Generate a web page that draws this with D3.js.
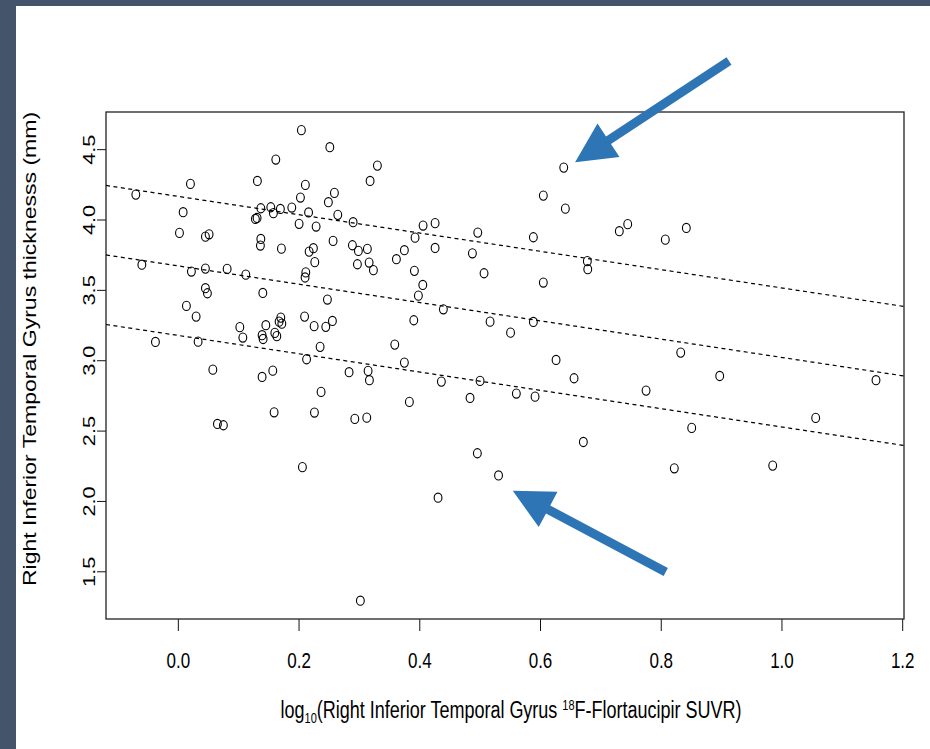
<!DOCTYPE html>
<html>
<head>
<meta charset="utf-8">
<script src="https://cdn.jsdelivr.net/npm/d3@7"></script>
<style>
  body { margin: 0; background: #fff; }
  svg { display: block; }
</style>
</head>
<body>
<svg id="chart"></svg>
<script>
// Points (log10 SUVR, thickness in mm)
const suvrLog = [
  0.2047, 0.1623, 0.0209, 0.1318, 0.2113, -0.0696, 0.2031, 0.1375, 0.1540, 0.1699,
  0.1888, 0.1583, 0.2166, 0.0088, 0.1285, 0.1313, 0.2009, 0.0027, 0.0457, 0.0518,
  0.1375, 0.1368, 0.1716, 0.2175, -0.0596, 0.0225, 0.0457, 0.0817, 0.1126, 0.2120,
  0.2108, 0.2518, 0.3306, 0.3185, 0.2594, 0.2494, 0.2650, 0.2291, 0.2904, 0.2572,
  0.2246, 0.2269, 0.2892, 0.2991, 0.3140, 0.2975, 0.3169, 0.3240, 0.3621, 0.3753,
  0.3930, 0.4063, 0.4262, 0.4262, 0.3919, 0.4969, 0.4880, 0.5073, 0.6393, 0.6055,
  0.6420, 0.5890, 0.7314, 0.7453, 0.8424, 0.8076, 0.6784, 0.6791, 0.6055, 0.0457,
  0.0490, 0.1408, 0.0142, 0.0303, 0.2100, 0.1706, 0.1678, 0.1723, 0.1027, 0.1077,
  0.1458, 0.1396, 0.1413, 0.1607, 0.1640, -0.0371, 0.0336, 0.2133, 0.0580, 0.1396,
  0.1573, 0.1595, 0.0656, 0.0755, 0.4058, 0.3985, 0.2478, 0.4399, 0.2258, 0.2451,
  0.2561, 0.3909, 0.5173, 0.5512, 0.2357, 0.3594, 0.2837, 0.3152, 0.3174, 0.3753,
  0.4366, 0.5007, 0.2373, 0.2263, 0.3836, 0.4841, 0.2932, 0.3130, 0.5890, 0.8331,
  0.6266, 0.6564, 0.5608, 0.5918, 0.7757, 0.8513, 0.6718, 0.8977, 1.1566, 1.0567,
  0.2064, 0.3024, 0.4311, 0.4962, 0.5313, 0.8225, 0.9855
];
const thickness = [
  4.635, 4.426, 4.253, 4.274, 4.246, 4.177, 4.156, 4.080, 4.087, 4.075,
  4.085, 4.045, 4.050, 4.052, 4.004, 4.011, 3.969, 3.905, 3.878, 3.895,
  3.862, 3.815, 3.793, 3.772, 3.679, 3.630, 3.651, 3.649, 3.608, 3.624,
  3.588, 4.514, 4.383, 4.274, 4.189, 4.123, 4.033, 3.950, 3.981, 3.848,
  3.796, 3.697, 3.817, 3.777, 3.791, 3.682, 3.694, 3.640, 3.718, 3.782,
  3.871, 3.957, 3.974, 3.798, 3.635, 3.907, 3.760, 3.618, 4.369, 4.170,
  4.077, 3.874, 3.917, 3.967, 3.940, 3.857, 3.704, 3.647, 3.552, 3.512,
  3.476, 3.478, 3.386, 3.310, 3.310, 3.303, 3.274, 3.260, 3.235, 3.161,
  3.249, 3.178, 3.151, 3.194, 3.171, 3.130, 3.132, 3.007, 2.933, 2.881,
  2.926, 2.630, 2.547, 2.538, 3.535, 3.459, 3.431, 3.362, 3.242, 3.237,
  3.279, 3.284, 3.274, 3.196, 3.095, 3.111, 2.915, 2.924, 2.858, 2.983,
  2.848, 2.853, 2.775, 2.628, 2.704, 2.732, 2.583, 2.592, 3.272, 3.054,
  3.002, 2.872, 2.763, 2.741, 2.784, 2.519, 2.419, 2.888, 2.858, 2.590,
  2.240, 1.291, 2.023, 2.339, 2.181, 2.232, 2.251
];

// Dashed fit line and its two offsets, value at each end of the x range
const fitX = [-0.119, 1.203];
const upperFit = [4.242, 3.382];
const centerFit = [3.748, 2.888];
const lowerFit = [3.254, 2.394];

// Tick values
const xTicks = [0.0, 0.2, 0.4, 0.6, 0.8, 1.0, 1.2];
const yTicks = [1.5, 2.0, 2.5, 3.0, 3.5, 4.0, 4.5];

// Blue call-out arrows, [x, y] in data units
const arrowTails = [[0.9131, 5.127], [0.8083, 1.495]];
const arrowTips = [[0.6581, 4.407], [0.5549, 2.073]];

const W = 930, H = 749;
const box = { left: 106, right: 904, top: 112, bottom: 619 };
const stretch = 1.28; // the picture is stretched a little vertically
const font = "'Liberation Sans', Arial, Helvetica, sans-serif";

const svg = d3.select("#chart").attr("width", W).attr("height", H);

// slide background + frame strips
svg.append("rect").attr("width", W).attr("height", H).attr("fill", "#fff");
svg.append("rect").attr("width", 16).attr("height", H).attr("fill", "#44546A");
svg.append("rect").attr("width", W).attr("height", 6).attr("fill", "#44546A");

const x = d3.scaleLinear().domain(fitX).range([box.left, box.right]);
const y = d3.scaleLinear().domain([1.161, 4.764]).range([box.bottom, box.top]);

// x axis
const gx = svg.append("g")
  .attr("transform", `translate(0,${box.bottom})`)
  .call(d3.axisBottom(x).tickValues(xTicks).tickSize(12).tickFormat(d3.format(".1f")));
gx.select(".domain").remove();
gx.selectAll("line").attr("stroke", "#111");
gx.selectAll("text")
  .attr("y", 0).attr("dy", 0)
  .attr("transform", `translate(0,49) scale(1,${stretch})`)
  .style("font-family", font).style("font-size", "17px").attr("fill", "#000");

// y axis, labels parallel to the axis
const gy = svg.append("g")
  .attr("transform", `translate(${box.left},0)`)
  .call(d3.axisLeft(y).tickValues(yTicks).tickSize(9).tickFormat(d3.format(".1f")));
gy.select(".domain").remove();
gy.selectAll("line").attr("stroke", "#111");
gy.selectAll("text")
  .attr("x", 0).attr("y", 0).attr("dy", 0)
  .attr("text-anchor", "middle")
  .attr("transform", `translate(-11,0) rotate(-90) scale(${stretch},1)`)
  .style("font-family", font).style("font-size", "17px").attr("fill", "#000");

// plot box
svg.append("rect")
  .attr("x", box.left).attr("y", box.top)
  .attr("width", box.right - box.left).attr("height", box.bottom - box.top)
  .attr("fill", "none").attr("stroke", "#222").attr("stroke-width", 1.3);

// dashed lines
[upperFit, centerFit, lowerFit].forEach(vals => {
  svg.append("line")
    .attr("x1", x(fitX[0])).attr("y1", y(vals[0]))
    .attr("x2", x(fitX[1])).attr("y2", y(vals[1]))
    .attr("stroke", "#000").attr("stroke-width", 1.2)
    .attr("stroke-dasharray", "4,3.5");
});

// open circles
svg.append("g")
  .selectAll("ellipse")
  .data(d3.range(suvrLog.length))
  .enter()
  .append("ellipse")
  .attr("cx", i => x(suvrLog[i]))
  .attr("cy", i => y(thickness[i]))
  .attr("rx", 3.9)
  .attr("ry", 4.6)
  .attr("fill", "none")
  .attr("stroke", "#000")
  .attr("stroke-width", 1.1);

// axis titles
svg.append("text")
  .attr("transform", `translate(36,349) rotate(-90) scale(${stretch},1)`)
  .attr("text-anchor", "middle")
  .style("font-family", font).style("font-size", "18px")
  .text("Right Inferior Temporal Gyrus thicknesss (mm)");

const xt = svg.append("text")
  .attr("transform", `translate(511,718) scale(1,${stretch})`)
  .attr("text-anchor", "middle")
  .style("font-family", font).style("font-size", "18px");
xt.append("tspan").text("log");
xt.append("tspan").attr("dy", 4).style("font-size", "11px").text("10");
xt.append("tspan").attr("dy", -4).text("(Right Inferior Temporal Gyrus ");
xt.append("tspan").attr("dy", -6).style("font-size", "11px").text("18");
xt.append("tspan").attr("dy", 6).text("F-Flortaucipir SUVR)");

// arrows: shaft + head polygon built from tail/tip
const shaftW = 9, headLen = 40, headHalf = 20;
arrowTails.forEach((tail, i) => {
  const sx = x(tail[0]), sy = y(tail[1]);
  const tx = x(arrowTips[i][0]), ty = y(arrowTips[i][1]);
  const len = Math.hypot(tx - sx, ty - sy);
  const ux = (tx - sx) / len, uy = (ty - sy) / len;
  const nx = -uy, ny = ux;
  const bx = tx - ux * headLen, by = ty - uy * headLen;
  const pts = [
    [sx + nx * shaftW / 2, sy + ny * shaftW / 2],
    [bx + nx * shaftW / 2, by + ny * shaftW / 2],
    [bx + nx * headHalf, by + ny * headHalf],
    [tx, ty],
    [bx - nx * headHalf, by - ny * headHalf],
    [bx - nx * shaftW / 2, by - ny * shaftW / 2],
    [sx - nx * shaftW / 2, sy - ny * shaftW / 2]
  ];
  svg.append("polygon")
    .attr("points", pts.map(p => p.join(",")).join(" "))
    .attr("fill", "#2E75B6");
});
</script>
</body>
</html>
